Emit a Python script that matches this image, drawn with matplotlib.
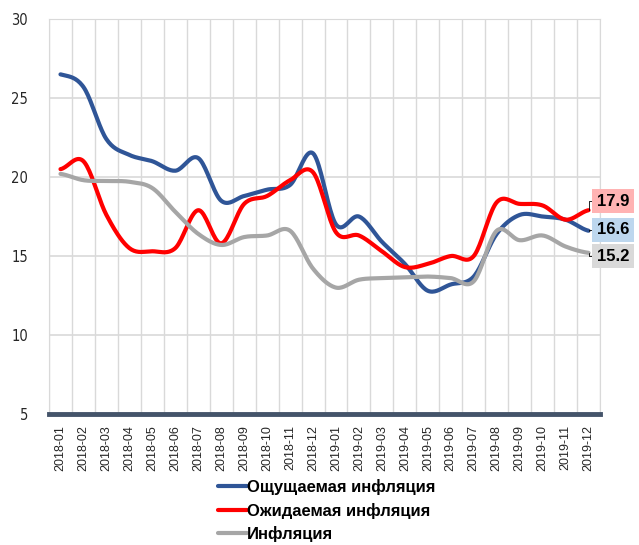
import matplotlib
matplotlib.use("Agg")
import matplotlib.pyplot as plt
from matplotlib import font_manager
import numpy as np

# data
months = ["2018-01", "2018-02", "2018-03", "2018-04", "2018-05", "2018-06",
          "2018-07", "2018-08", "2018-09", "2018-10", "2018-11", "2018-12",
          "2019-01", "2019-02", "2019-03", "2019-04", "2019-05", "2019-06",
          "2019-07", "2019-08", "2019-09", "2019-10", "2019-11", "2019-12"]

felt = [26.5, 25.7, 22.4, 21.4, 21.0, 20.4, 21.2, 18.5, 18.8, 19.2, 19.5, 21.5,
        17.0, 17.5, 15.9, 14.5, 12.8, 13.2, 13.7, 16.4, 17.6, 17.5, 17.3, 16.6]
expected = [20.5, 21.0, 17.6, 15.5, 15.3, 15.5, 17.9, 15.8, 18.3, 18.8, 19.8, 20.3,
            16.5, 16.3, 15.3, 14.3, 14.5, 15.0, 15.0, 18.4, 18.3, 18.2, 17.3, 17.9]
inflation = [20.2, 19.8, 19.75, 19.7, 19.3, 17.8, 16.4, 15.7, 16.2, 16.3, 16.6, 14.2,
             13.0, 13.5, 13.6, 13.65, 13.7, 13.6, 13.4, 16.6, 16.0, 16.3, 15.6, 15.2]

names = ["Ощущаемая инфляция", "Ожидаемая инфляция", "Инфляция"]
colors = ["#2F5597", "#FF0000", "#A6A6A6"]
box_colors = ["#BDD7EE", "#FFB3B3", "#D9D9D9"]


def smooth(y, n=20):
    # excel-like smoothed line (catmull-rom through the points)
    y = np.asarray(y, float)
    x = np.arange(len(y), dtype=float)
    p = np.concatenate([[y[0]], y, [y[-1]]])
    xs, ys = [], []
    t = np.linspace(0, 1, n, endpoint=False)
    for i in range(len(y) - 1):
        p0, p1, p2, p3 = p[i], p[i + 1], p[i + 2], p[i + 3]
        m1 = (p2 - p0) / 2
        m2 = (p3 - p1) / 2
        h00 = 2 * t**3 - 3 * t**2 + 1
        h10 = t**3 - 2 * t**2 + t
        h01 = -2 * t**3 + 3 * t**2
        h11 = t**3 - t**2
        ys.append(h00 * p1 + h10 * m1 + h01 * p2 + h11 * m2)
        xs.append(x[i] + t)
    xs.append([x[-1]])
    ys.append([y[-1]])
    return np.concatenate(xs), np.concatenate(ys)


plt.rcParams["font.family"] = ["Liberation Sans", "DejaVu Sans"]

# narrow font for the y labels if there is one
installed = {f.name for f in font_manager.fontManager.ttflist}
if "Liberation Sans Narrow" in installed:
    narrow = dict(family="Liberation Sans Narrow", size=12)
else:
    narrow = dict(family="DejaVu Sans", stretch="condensed", size=10.5)

fig = plt.figure(figsize=(6.39, 5.45), dpi=100)
ax = fig.add_axes([0.0767, 0.2404, 0.8623, 0.7246])

series = [felt, expected, inflation]
for vals, name, c in zip(series, names, colors):
    sx, sy = smooth(vals)
    ax.plot(sx, sy, color=c, lw=3, label=name, solid_capstyle="round")

ax.set_xlim(-0.5, len(months) - 0.5)
ax.set_ylim(5, 30)
ax.set_yticks([5, 10, 15, 20, 25, 30])
ax.set_xticks(range(len(months)))
ax.set_xticklabels(months, rotation=90, fontsize=9, color="#262626")
ax.set_xticks(np.arange(-0.5, len(months)), minor=True)
ax.tick_params(axis="x", which="both", length=0, pad=8)
ax.tick_params(axis="y", length=0, pad=15)
for lab in ax.get_yticklabels():
    lab.set_fontfamily(narrow["family"])
    lab.set_fontsize(narrow["size"])
    if "stretch" in narrow:
        lab.set_fontstretch(narrow["stretch"])
    lab.set_color("#262626")

ax.grid(which="minor", axis="x", color="#D9D9D9", lw=1)
ax.grid(which="major", axis="y", color="#D9D9D9", lw=1.2)
ax.set_axisbelow(True)
for s in ["top", "right", "left"]:
    ax.spines[s].set_color("#D9D9D9")
ax.spines["bottom"].set_color("#44546A")
ax.spines["bottom"].set_linewidth(3.5)

# value labels at the last point
label_y = [16.65, 18.48, 15.0]
last = len(months) - 1
for vals, bc, ly in zip(series, box_colors, label_y):
    ax.annotate(f"{vals[-1]:.1f}", xy=(last, vals[-1]), xytext=(last + 0.37, ly),
                va="center", ha="left", fontsize=12, fontweight="bold",
                annotation_clip=False,
                bbox=dict(boxstyle="square,pad=0.28", fc=bc, ec="none"),
                arrowprops=dict(arrowstyle="-", color="black", lw=0.6,
                                shrinkA=0, shrinkB=0,
                                connectionstyle="angle,angleA=0,angleB=90,rad=0"))

leg = fig.legend(loc="upper left", bbox_to_anchor=(0.331, 0.133), frameon=False,
                 prop={"size": 12, "weight": "bold"}, handlelength=1.7,
                 handletextpad=0.05, labelspacing=0.45, borderaxespad=0)

fig.savefig("out.png", dpi=100)
